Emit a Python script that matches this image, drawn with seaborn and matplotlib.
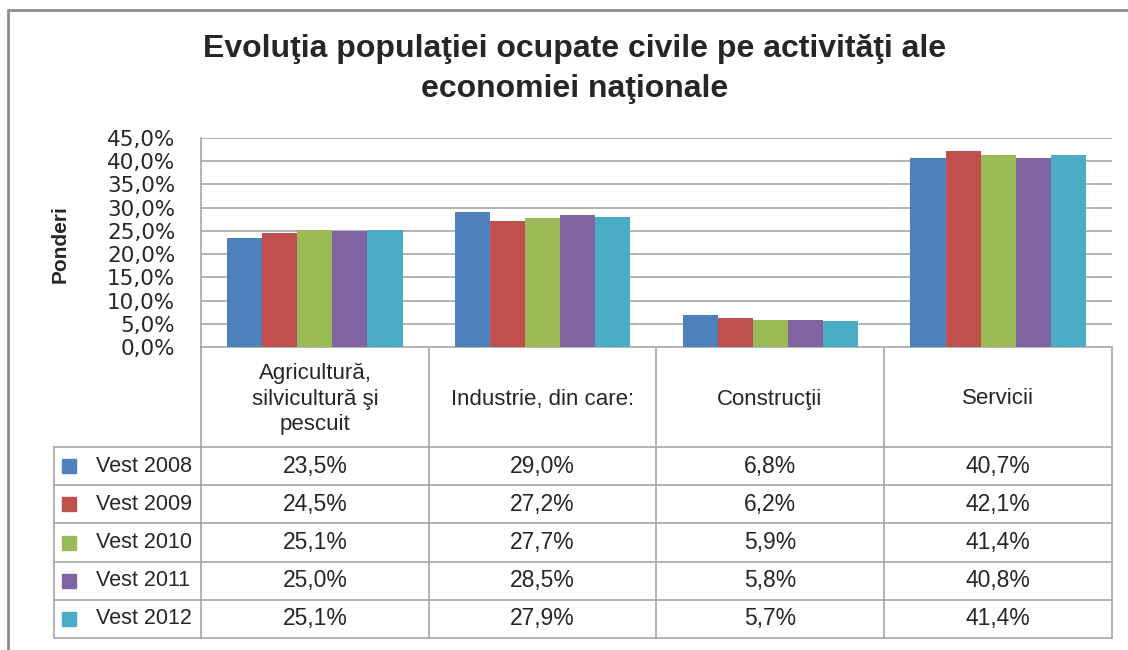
import pandas as pd
import matplotlib.pyplot as plt
import seaborn as sns
from matplotlib.lines import Line2D
from matplotlib.patches import Rectangle

# date
categorii = ['Agricultură,\nsilvicultură şi\npescuit', 'Industrie, din care:', 'Construcţii', 'Servicii']
ani = ['Vest 2008', 'Vest 2009', 'Vest 2010', 'Vest 2011', 'Vest 2012']
vest_2008 = [23.5, 29.0, 6.8, 40.7]
vest_2009 = [24.5, 27.2, 6.2, 42.1]
vest_2010 = [25.1, 27.7, 5.9, 41.4]
vest_2011 = [25.0, 28.5, 5.8, 40.8]
vest_2012 = [25.1, 27.9, 5.7, 41.4]
culori = ['#4F81BD', '#C0504D', '#9BBB59', '#8064A2', '#4BACC6']

serii = [vest_2008, vest_2009, vest_2010, vest_2011, vest_2012]
rows = []
for an, vals in zip(ani, serii):
    for cat, v in zip(categorii, vals):
        rows.append({'cat': cat, 'an': an, 'val': v})
df = pd.DataFrame(rows)

W, H = 1128, 650
sns.set_style('white')
plt.rcParams['font.family'] = ['Liberation Sans', 'DejaVu Sans']
grid_c = '#a6a6a6'

fig = plt.figure(figsize=(W / 100, H / 100), dpi=100)

# fundal pentru tabel / chenar (coordonate in pixeli)
bg = fig.add_axes([0, 0, 1, 1])
bg.set_xlim(0, W)
bg.set_ylim(H, 0)
bg.axis('off')

x0, x1, ytop, ybot = 201, 1112, 138, 347
ax = fig.add_axes([x0 / W, 1 - ybot / H, (x1 - x0) / W, (ybot - ytop) / H])
sns.barplot(data=df, x='cat', y='val', hue='an', palette=culori, width=0.77,
            gap=0, saturation=1, legend=False, ax=ax, linewidth=0)
ax.set_ylim(0, 45)
ax.set_xlim(-0.5, len(categorii) - 0.5)
ax.set_yticks(range(0, 50, 5))
ax.set_yticklabels([f'{t:.1f}%'.replace('.', ',') for t in range(0, 50, 5)],
                   fontsize=15.5, family=['DejaVu Sans'])
ax.tick_params(axis='y', length=0, pad=18.5)
ax.set_xticks([])
ax.set_xlabel('')
ax.set_ylabel('')
ax.yaxis.grid(True, color=grid_c, linewidth=1.2)
ax.set_axisbelow(True)
for s in ['top', 'right', 'bottom']:
    ax.spines[s].set_visible(False)
ax.spines['left'].set_color(grid_c)
ax.spines['left'].set_linewidth(1.2)

fig.text(575 / W, 1 - 69 / H, 'Evoluţia populaţiei ocupate civile pe activităţi ale\neconomiei naţionale',
         ha='center', va='center', fontsize=23, fontweight='bold', linespacing=1.45)
fig.text(60 / W, 1 - 244 / H, 'Ponderi', rotation=90, ha='center', va='center',
         fontsize=15, fontweight='bold')

# chenar exterior
bg.add_line(Line2D([8, 8], [10, H], color='#8c8c8c', lw=2))
bg.add_line(Line2D([8, W], [10, 10], color='#8c8c8c', lw=2))

# tabel
col_edges = [201, 429, 656, 884, 1112]
header_bot = 447
row_h = 38.2
tab_left = 54
n = len(ani)
tab_bot = header_bot + n * row_h
lkw = dict(color=grid_c, lw=1.2)
bg.add_line(Line2D([201, 1112], [ybot, ybot], **lkw))
for xe in col_edges:
    bg.add_line(Line2D([xe, xe], [ybot, tab_bot], **lkw))
bg.add_line(Line2D([tab_left, tab_left], [header_bot, tab_bot], **lkw))
for i in range(n + 1):
    yy = header_bot + i * row_h
    bg.add_line(Line2D([tab_left, 1112], [yy, yy], **lkw))

for j, cat in enumerate(categorii):
    xc = (col_edges[j] + col_edges[j + 1]) / 2
    bg.text(xc, (ybot + header_bot) / 2 + 2, cat, ha='center', va='center',
            fontsize=16, linespacing=1.3)

for i, (an, vals) in enumerate(zip(ani, serii)):
    yc = header_bot + (i + 0.5) * row_h
    bg.add_patch(Rectangle((62, yc - 7), 14, 14, color=culori[i]))
    bg.text(96, yc, an, ha='left', va='center', fontsize=15.5)
    for j, v in enumerate(vals):
        xc = (col_edges[j] + col_edges[j + 1]) / 2
        bg.text(xc, yc, f'{v:.1f}%'.replace('.', ','), ha='center', va='center',
                fontsize=16.5)

fig.savefig('out.png', dpi=100)
